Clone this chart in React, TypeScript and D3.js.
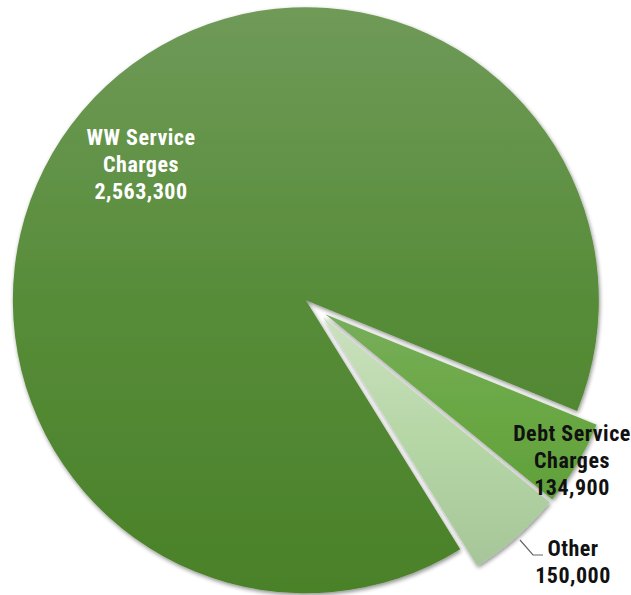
import React from "react";
import * as d3 from "d3";

const categories = ["WW Service Charges", "Debt Service Charges", "Other"];
const values = [2563300, 134900, 150000];
const labelLines = [
  ["WW Service", "Charges", "2,563,300"],
  ["Debt Service", "Charges", "134,900"],
  ["Other", "150,000"],
];
const gradients = [
  ["#6f9a58", "#578c39", "#4a8128"],
  ["#78ae5a", "#6aa845", "#60a03a"],
  ["#cbe1bf", "#b5d6a5", "#a6c699"],
];
const labelColors = ["#ffffff", "#111111", "#111111"];

const W = 631;
const H = 595;
const cx = 315;
const cy = 308;
const R = 293;
const explode = 12;
const startDeg = 148.2;

export default function App() {
  const pie = d3
    .pie<number>()
    .sort(null)
    .startAngle((startDeg * Math.PI) / 180)
    .endAngle((startDeg * Math.PI) / 180 + 2 * Math.PI);
  const arcs = pie(values);
  const arcGen = d3.arc<d3.PieArcDatum<number>>().innerRadius(0).outerRadius(R);

  const offsets = arcs.map((a) => {
    const mid = (a.startAngle + a.endAngle) / 2;
    return [explode * Math.sin(mid), -explode * Math.cos(mid)];
  });

  const labelPos = [
    { x: 141, y: 145 },
    { x: 572, y: 441 },
    { x: 573, y: 556 },
  ];
  const lineH = 27;

  return (
    <svg
      width={W}
      height={H}
      style={{ position: "absolute", left: 0, top: 0 }}
      fontFamily="'Liberation Sans Narrow', 'Arial Narrow', 'Roboto Condensed', sans-serif"
    >
      <defs>
        {gradients.map((g, i) => (
          <linearGradient key={i} id={`g${i}`} x1="0" y1="0" x2="0" y2="1">
            <stop offset="0%" stopColor={g[0]} />
            <stop offset="50%" stopColor={g[1]} />
            <stop offset="100%" stopColor={g[2]} />
          </linearGradient>
        ))}
        <filter id="shadow" x="-10%" y="-10%" width="120%" height="120%">
          <feGaussianBlur in="SourceAlpha" stdDeviation="2" />
          <feOffset dx="1" dy="2" result="b" />
          <feComponentTransfer>
            <feFuncA type="linear" slope="0.45" />
          </feComponentTransfer>
          <feMerge>
            <feMergeNode />
            <feMergeNode in="SourceGraphic" />
          </feMerge>
        </filter>
        {offsets.map((o, i) => (
          <radialGradient
            key={i}
            id={`hl${i}`}
            gradientUnits="userSpaceOnUse"
            cx={cx + o[0]}
            cy={cy + o[1]}
            r={45}
          >
            <stop offset="0%" stopColor="#ffffff" stopOpacity={1} />
            <stop offset="60%" stopColor="#ffffff" stopOpacity={0.5} />
            <stop offset="100%" stopColor="#ffffff" stopOpacity={0} />
          </radialGradient>
        ))}
      </defs>
      {arcs.map((a, i) => (
        <g key={categories[i]} transform={`translate(${cx + offsets[i][0]},${cy + offsets[i][1]})`}>
          <path d={arcGen(a) || ""} fill={`url(#g${i})`} filter="url(#shadow)" />
        </g>
      ))}
      {arcs.map((a, i) => (
        <path
          key={`h${i}`}
          d={arcGen(a) || ""}
          transform={`translate(${cx + offsets[i][0]},${cy + offsets[i][1]})`}
          fill="none"
          stroke={`url(#hl${i})`}
          strokeWidth={5}
          strokeLinejoin="round"
        />
      ))}
      <polyline
        points="520,540 533,555 543,555"
        fill="none"
        stroke="#666"
        strokeWidth={1.2}
      />
      {labelLines.map((lines, i) => (
        <text
          key={`t${i}`}
          x={labelPos[i].x}
          y={labelPos[i].y}
          textAnchor="middle"
          fill={labelColors[i]}
          fontWeight="bold"
          fontSize={22}
          letterSpacing={0.5}
        >
          {lines.map((l, j) => (
            <tspan key={j} x={labelPos[i].x} y={labelPos[i].y + j * lineH}>
              {l}
            </tspan>
          ))}
        </text>
      ))}
    </svg>
  );
}
